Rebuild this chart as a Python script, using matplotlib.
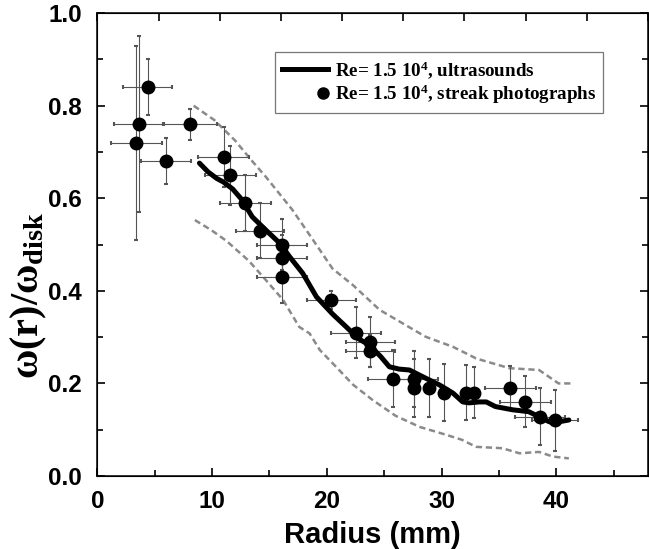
import numpy as np
import matplotlib
matplotlib.use("Agg")
import matplotlib.pyplot as plt
from matplotlib.lines import Line2D
from matplotlib.legend_handler import HandlerLine2D
from matplotlib.ticker import MultipleLocator, FormatStrFormatter

# streak photograph points
pt_x = [4.4, 3.6, 8.1, 3.4, 6.0, 11.0, 11.6, 12.9, 14.2, 16.1, 16.1, 16.1, 20.4,
        22.55, 23.8, 23.8, 25.8, 27.6, 27.6, 28.9, 30.2, 32.1, 32.8, 36.0, 37.3, 38.6, 39.9]
pt_y = [0.84, 0.76, 0.76, 0.72, 0.68, 0.69, 0.65, 0.59, 0.53, 0.50, 0.47, 0.43, 0.38,
        0.31, 0.29, 0.27, 0.21, 0.21, 0.19, 0.19, 0.18, 0.18, 0.18, 0.19, 0.16, 0.128, 0.12]
pt_xerr = [2.15, 2.15, 2.3, 2.2, 2.2, 2.2, 2.2, 2.2, 2.1, 2.15, 2.15, 2.15, 2.15,
           2.15, 2.15, 2.15, 2.2, 2.1, 0, 0, 0, 0, 0, 2.2, 2.2, 2.2, 2.0]
pt_yerr = [0.06, 0.19, 0.034, 0.21, 0.05, 0.065, 0.064, 0.06, 0.06, 0.055, 0.05, 0.057, 0.02,
           0.056, 0.054, 0.035, 0.062, 0.06, 0.062, 0.062, 0.062, 0.059, 0.055, 0.048, 0.055, 0.062, 0.065]

# ultrasound profile
us_x = [8.9, 9.65, 10.4, 11.0, 11.8, 12.6, 13.5, 14.7, 15.9, 16.75, 17.9, 19.1, 20.5, 21.7,
        22.8, 23.7, 24.7, 25.45, 26.3, 27.2, 28.4, 29.8, 31.0, 31.85, 32.4, 33.3, 33.9, 34.7,
        36.2, 37.6, 38.5, 39.4, 40.2, 41.1]
us_y = [0.676, 0.657, 0.643, 0.635, 0.620, 0.597, 0.560, 0.531, 0.503, 0.474, 0.438, 0.387,
        0.350, 0.322, 0.296, 0.283, 0.258, 0.236, 0.231, 0.229, 0.214, 0.197, 0.179, 0.160,
        0.158, 0.160, 0.160, 0.150, 0.143, 0.139, 0.128, 0.117, 0.117, 0.121]

# upper / lower bounds of the ultrasound profile
up_x = [8.4, 10.2, 12.0, 13.4, 14.7, 17.0, 18.8, 20.5, 22.3, 24.6, 26.6, 28.6, 31.0,
        32.7, 33.0, 35.9, 38.5, 40.2, 41.4]
up_y = [0.800, 0.769, 0.725, 0.683, 0.646, 0.575, 0.510, 0.448, 0.412, 0.359, 0.330, 0.301,
        0.279, 0.258, 0.254, 0.233, 0.229, 0.200, 0.200]
lo_x = [8.5, 9.95, 11.25, 13.2, 14.7, 16.2, 17.6, 18.5, 19.4, 20.8, 22.3, 24.0, 26.0, 28.1,
        30.4, 31.8, 33.0, 35.3, 36.8, 38.5, 39.7, 41.1]
lo_y = [0.553, 0.531, 0.508, 0.465, 0.423, 0.380, 0.322, 0.308, 0.272, 0.236, 0.197, 0.164,
        0.130, 0.106, 0.089, 0.078, 0.063, 0.060, 0.049, 0.052, 0.042, 0.038]

plt.rcParams['mathtext.fontset'] = 'custom'
plt.rcParams['mathtext.rm'] = 'Liberation Serif:bold'
plt.rcParams['mathtext.it'] = 'Liberation Serif:bold'
plt.rcParams['mathtext.bf'] = 'Liberation Serif:bold'

fig = plt.figure(figsize=(6.49, 5.49), dpi=100)
ax = fig.add_axes([0.150, 0.133, 0.8485, 0.843])

# bands
ax.plot(up_x, up_y, color='#8a8a8a', lw=1.8, linestyle=(0, (2.5, 1.5)), zorder=1)
ax.plot(lo_x, lo_y, color='#8a8a8a', lw=1.8, linestyle=(0, (2.5, 1.5)), zorder=1)

# error bars + points
ax.errorbar(pt_x, pt_y, xerr=pt_xerr, yerr=pt_yerr, fmt='none', ecolor='#555555',
            elinewidth=0.8, capsize=1.2, capthick=1.5, zorder=2)
ax.plot(pt_x, pt_y, 'o', color='black', ms=9, zorder=4)

# ultrasound curve
ax.plot(us_x, us_y, color='black', lw=3.6, solid_capstyle='round', zorder=3)

ax.set_xlim(0, 48)
ax.set_ylim(0, 1.0)
ax.set_xticks([0, 10, 20, 30, 40])
ax.xaxis.set_minor_locator(MultipleLocator(5))
ax.yaxis.set_major_locator(MultipleLocator(0.2))
ax.yaxis.set_minor_locator(MultipleLocator(0.1))
ax.yaxis.set_major_formatter(FormatStrFormatter('%.1f'))
ax.tick_params(which='both', direction='in', right=True, top=False, width=1.2)
ax.tick_params(which='major', length=6)
ax.tick_params(which='minor', length=4)
ax.tick_params(axis='x', pad=10)
ax.tick_params(axis='y', pad=11)
for lab in ax.get_xticklabels() + ax.get_yticklabels():
    lab.set_fontfamily('Liberation Sans')
    lab.set_fontweight('bold')
    lab.set_fontsize(17.5)
for sp in ax.spines.values():
    sp.set_linewidth(1.1)

# top ticks (different spacing in the original)
ax2 = ax.twiny()
ax2.set_xlim(0, 9)
ax2.set_xticks(range(10))
ax2.tick_params(direction='in', labeltop=False, length=6, width=1.2)

ax.set_xlabel('Radius (mm)', fontfamily='Liberation Sans', fontweight='bold', fontsize=21, labelpad=6)
ax.set_ylabel(r'$\omega(\mathrm{r})/\omega_{\mathrm{disk}}$', fontsize=29)
ax.yaxis.set_label_coords(-0.088, 0.39)


class RightMarker(HandlerLine2D):
    def get_xdata(self, legend, xdescent, ydescent, width, height, fontsize):
        xm = -xdescent + width - 0.25 * fontsize
        return np.array([xm - 1, xm + 1]), np.array([xm])


h1 = Line2D([], [], color='black', lw=3.6)
h2 = Line2D([], [], color='black', marker='o', ms=8, linestyle='none')
leg = ax.legend([h1, h2],
                [r'Re= 1.5 10$^4$, ultrasounds', r'Re= 1.5 10$^4$, streak photographs'],
                loc='upper left', bbox_to_anchor=(0.323, 0.916), borderaxespad=0,
                prop={'family': 'Liberation Serif', 'weight': 'bold', 'size': 13.7},
                handlelength=2.4, handletextpad=0.4, labelspacing=0.1, borderpad=0.35,
                fancybox=False, edgecolor='#777777', framealpha=1,
                handler_map={h2: RightMarker(numpoints=1)})
leg.get_frame().set_linewidth(0.9)

fig.savefig('out.png', dpi=100)
